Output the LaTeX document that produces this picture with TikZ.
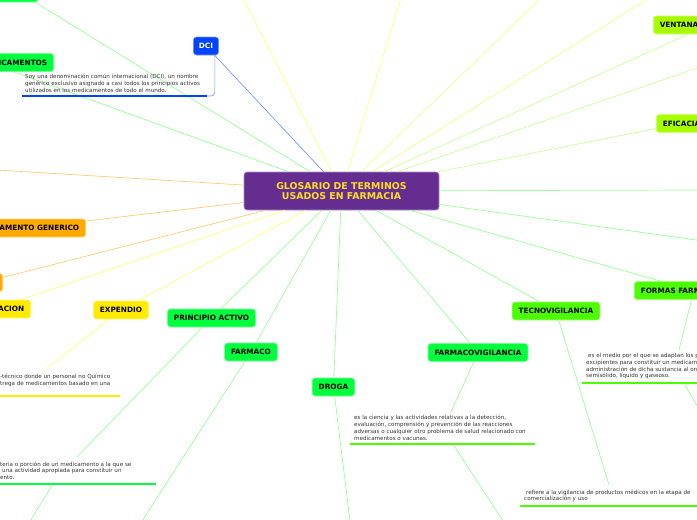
\documentclass[tikz,border=0pt]{standalone}
\usepackage{fontspec}
\setmainfont{DejaVu Sans}
\definecolor{purp}{HTML}{662D91}
\definecolor{gold}{HTML}{FFDD22}
\definecolor{grn}{HTML}{00FF3C}
\definecolor{grnB}{HTML}{4CFF00}
\definecolor{lime}{HTML}{A8FF00}
\definecolor{org}{HTML}{FFAA00}
\definecolor{yel}{HTML}{FFEA00}
\definecolor{blu}{HTML}{0044FF}
\definecolor{lgrn}{HTML}{99FF99}
\definecolor{llime}{HTML}{CCFF99}
\definecolor{lyel}{HTML}{FFFF77}
\definecolor{lyg}{HTML}{EEFF88}
\definecolor{lorg}{HTML}{FFCC77}
\definecolor{lblu}{HTML}{7799FF}
\tikzset{
 idea/.style={rounded corners=3pt,fill=#1,draw=#1!55!white,line width=0.6pt,minimum height=18pt,inner xsep=6.5pt,font=\fontsize{7.3}{8}\selectfont\bfseries},
 link/.style={draw=#1,line width=0.7pt},
 note/.style={anchor=north west,inner sep=0pt,align=left,text=black!80,font=\fontsize{5.6}{6.8}\selectfont},
 bar/.style={draw=#1,line width=2.6pt}
}

\begin{document}
\begin{tikzpicture}[x=1pt,y=-1pt]
 \useasboundingbox (0,0) rectangle (697,520);
 \clip (0,0) rectangle (697,520);
 % centre
 \node[idea=purp,minimum width=195pt,minimum height=38pt,text=gold,align=center,font=\fontsize{9.4}{10.7}\selectfont\bfseries] (glos) at (341.5,191) {GLOSARIO DE TERMINOS\\ USADOS EN FARMACIA};
 % main topics
 \node[idea=grn,minimum width=78pt] (tl) at (-1,-7) {};
 \node[idea=grn,anchor=east] (medic) at (54,62.5) {MEDICAMENTOS};
 \node[idea=blu,text=white,inner xsep=5.5pt] (dci) at (206,46) {DCI};
 \node[idea=org,anchor=east] (medgen) at (86,228) {MEDICAMENTO GENERICO};
 \node[idea=org,anchor=east,minimum width=40pt] (orgx) at (3,282.5) {};
 \node[idea=yel,anchor=east] (disp) at (31,309) {DISPENSACION};
 \node[idea=yel] (exp) at (121,310) {EXPENDIO};
 \node[idea=grn] (pact) at (211.5,318) {PRINCIPIO ACTIVO};
 \node[idea=grn] (farm) at (251,352) {FARMACO};
 \node[idea=grn] (droga) at (333.5,387) {DROGA};
 \node[idea=grn] (fvig) at (478,352.5) {FARMACOVIGILANCIA};
 \node[idea=grnB] (tvig) at (556,311) {TECNOVIGILANCIA};
 \node[idea=grnB,anchor=west] (ffarm) at (634,290.5) {FORMAS FARMACEUTICAS};
 \node[idea=lime,anchor=west] (efic) at (656,123.5) {EFICACIA};
 \node[idea=lime,anchor=west] (vent) at (653,25) {VENTANA TERAPEUTICA};
 % free ends
 \coordinate (tle) at ([xshift=-3pt]tl.south east);
 \coordinate (mede) at (medic.south);
 \coordinate (t1) at (243,-2); \coordinate (t2) at (401,-2);
 \coordinate (t3) at (541,-2); \coordinate (t4) at (649,-2);
 \coordinate (r1) at (700,67); \coordinate (r2) at (700,190); \coordinate (r3) at (700,240.5);
 \coordinate (l1) at (-3,170);
 \foreach \n/\c in {tle/lgrn,mede/lgrn,dci/lblu,t1/lyel,t2/lyel,t3/lyg,t4/lyg,vent/llime,r1/llime,efic/llime,
   r2/lgrn,r3/lgrn,ffarm/lgrn,tvig/lgrn,fvig/lgrn,droga/lgrn,farm/lgrn,pact/lgrn,exp/lyel,disp/lyel,orgx/lorg,medgen/lorg,l1/lorg}
   \draw[link=\c] (glos) -- (\n);
 % DCI
 \node[note] (dcitxt) at (25,74) {Soy una denominación común internacional (DCI), un nombre\\genérico exclusivo asignado a casi todos los principios activos\\utilizados en los medicamentos de todo el mundo.};
 \coordinate (dcib1) at (22,96); \coordinate (dcib2) at (207,96);
 \draw[link=lblu,rounded corners=4pt] ([xshift=-4pt]dci.south east) |- (dcib2);
 \draw[bar=blu] (dcib1) -- (dcib2);
 % EXPENDIO
 \node[note] (exptxt) at (0,374) {-técnico donde un personal no Químico\\trega de medicamentos basado en una};
 \coordinate (expd) at (46,369); \coordinate (expb1) at (-5,396); \coordinate (expb2) at (120,396);
 \draw[link=lyel] (exp) -- (expd);
 \draw[bar=yel] (expb1) -- (expb2);
 % PRINCIPIO ACTIVO
 \node[note] (pacttxt) at (0,461.5) {teria o porción de un medicamento a la que se\\\hspace*{2pt}una actividad apropiada para constituir un\\ento.};
 \coordinate (pactd) at (77,457); \coordinate (pactb1) at (-5,484); \coordinate (pactb2) at (156,484);
 \coordinate (pactb) at (53,484); \coordinate (pactx) at (30,521);
 \draw[link=lgrn] (pact) -- (pactd);
 \draw[link=lgrn] (pactb) -- (pactx);
 \draw[bar=grn] (pactb1) -- (pactb2);
 % FARMACO, DROGA
 \coordinate (farmx) at (142,521); \coordinate (drogax) at (350,521);
 \draw[link=lgrn] (farm) -- (farmx);
 \draw[link=lgrn] (droga) -- (drogax);
 % FARMACOVIGILANCIA
 \node[note] (fvigtxt) at (354,415) {es la ciencia y las actividades relativas a la detección,\\evaluación, comprensión y prevención de las reacciones\\adversas o cualquier otro problema de salud relacionado con\\medicamentos o vacunas.};
 \coordinate (fvigd) at (451,412); \coordinate (fvigb1) at (350,444); \coordinate (fvigb2) at (535,444);
 \coordinate (fvigb) at (453,444); \coordinate (fvigx) at (503,521);
 \draw[link=lgrn] (fvig) -- (fvigd);
 \draw[link=lgrn] (fvigb) -- (fvigx);
 \draw[bar=grnB] (fvigb1) -- (fvigb2);
 % TECNOVIGILANCIA
 \node[note] (tvigtxt) at (524,489.5) {\hspace*{2pt}refiere a la vigilancia de productos médicos en la etapa de\\comercialización y uso};
 \coordinate (tvigd) at (609,485); \coordinate (tvigb1) at (520,506); \coordinate (tvigb2) at (702,506);
 \draw[link=lgrn] (tvig) -- (tvigd);
 \draw[bar=grnB] (tvigb1) -- (tvigb2);
 % FORMAS FARMACEUTICAS
 \node[note] (ffarmtxt) at (586,353) {\hspace*{2pt}es el medio por el que se adaptan los principios\\excipientes para constituir un medicamento\\administración de dicha sustancia al organismo\\semisólido, líquido y gaseoso.};
 \coordinate (ffarmd) at (679,350); \coordinate (ffarmb1) at (582,383); \coordinate (ffarmb2) at (702,383);
 \coordinate (ffarmb) at (684,383); \coordinate (ffarmx) at (699,409);
 \draw[link=lgrn] (ffarm) -- (ffarmd);
 \draw[link=lgrn] (ffarmb) -- (ffarmx);
 \draw[bar=grnB] (ffarmb1) -- (ffarmb2);
\end{tikzpicture}
\end{document}
